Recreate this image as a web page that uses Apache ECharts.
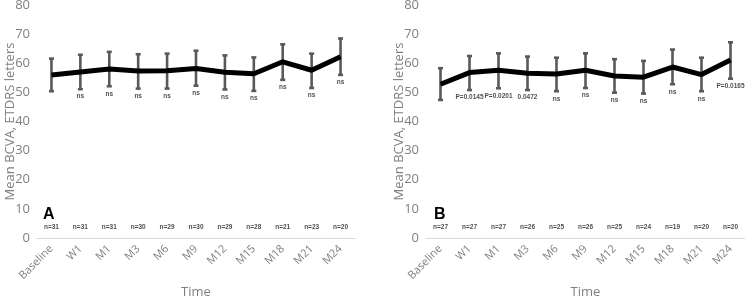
<!DOCTYPE html>
<html>
<head>
<meta charset="utf-8">
<script src="https://cdn.jsdelivr.net/npm/echarts@6/dist/echarts.min.js"></script>
<style>
html,body{margin:0;padding:0;background:#fff;}
#c{width:746px;height:298px;}
</style>
</head>
<body>
<div id="c"></div>
<script>
const categories = ['Baseline','W1','M1','M3','M6','M9','M12','M15','M18','M21','M24'];
const yTicks = [0,10,20,30,40,50,60,70,80];

const meanA  = [56.0,57.0,58.0,57.3,57.4,58.2,56.9,56.4,60.5,57.6,62.2];
const upperA = [61.6,62.9,63.9,63.1,63.3,64.3,62.7,62.0,66.5,63.3,68.5];
const lowerA = [50.4,51.1,52.1,51.3,51.3,52.3,51.0,50.5,54.3,51.5,56.0];
const sigA   = ['','ns','ns','ns','ns','ns','ns','ns','ns','ns','ns'];
const nA     = ['n=31','n=31','n=31','n=30','n=29','n=30','n=29','n=28','n=21','n=23','n=20'];

const meanB  = [52.8,56.8,57.6,56.6,56.3,57.6,55.6,55.2,58.7,56.1,61.1];
const upperB = [58.3,62.5,63.4,62.3,61.9,63.4,61.4,60.8,64.7,61.9,67.2];
const lowerB = [47.4,50.8,51.4,50.8,50.4,51.5,49.9,49.6,52.8,50.4,54.7];
const sigB   = ['','P=0.0145','P=0.0201','0.0472','ns','ns','ns','ns','ns','ns','P=0.0165'];
const nB     = ['n=27','n=27','n=27','n=26','n=25','n=26','n=25','n=24','n=19','n=20','n=20'];

const nRowValue = 3.6;
const panelLetters = ['A','B'];

const chart = echarts.init(document.getElementById('c'), null, {renderer:'canvas'});
const FONT = '"Open Sans", "Liberation Sans", sans-serif';
const grey = '#7f7f7f';

function errItem(params, api){
  const x = api.value(0);
  const lo = api.coord([x, api.value(1)]);
  const hi = api.coord([x, api.value(2)]);
  const w = 2.5;
  const st = {stroke:'#595959', lineWidth:2.6};
  return {type:'group', children:[
    {type:'line', shape:{x1:lo[0],y1:lo[1],x2:hi[0],y2:hi[1]}, style:st},
    {type:'line', shape:{x1:lo[0]-w,y1:lo[1],x2:lo[0]+w,y2:lo[1]}, style:st},
    {type:'line', shape:{x1:hi[0]-w,y1:hi[1],x2:hi[0]+w,y2:hi[1]}, style:st}
  ]};
}

function panelSeries(idx, mean, lower, upper, sig, ns){
  return [
    {type:'custom', xAxisIndex:idx, yAxisIndex:idx, renderItem:errItem, z:2,
     data: categories.map((c,i)=>[i, lower[i], upper[i]])},
    {type:'line', xAxisIndex:idx, yAxisIndex:idx, data:mean, showSymbol:false, symbol:'none', z:3,
     lineStyle:{color:'#000', width:5}, silent:true},
    {type:'scatter', xAxisIndex:idx, yAxisIndex:idx, symbolSize:0, z:4, silent:true,
     data: categories.map((c,i)=>({value:[i, lower[i]], label:{formatter: sig[i]}})),
     label:{show:true, position:'bottom', distance:4, fontSize:6.5, fontWeight:'bold', color:'#222', fontFamily:'"Liberation Sans", sans-serif'}},
    {type:'scatter', xAxisIndex:idx, yAxisIndex:idx, symbolSize:0, z:4, silent:true,
     data: categories.map((c,i)=>({value:[i, nRowValue], label:{formatter: ns[i]}})),
     label:{show:true, position:'inside', fontSize:6.5, fontWeight:'bold', color:'#222', fontFamily:'"Liberation Sans", sans-serif'}}
  ];
}

function xAx(idx){
  return {type:'category', gridIndex:idx, data:categories, boundaryGap:true,
    axisLine:{show:true, lineStyle:{color:'#d9d9d9', width:1}},
    axisTick:{show:false},
    axisLabel:{interval:0, rotate:45, fontSize:11, color:grey, margin:9, fontFamily:FONT},
    name:'Time', nameLocation:'middle', nameGap:48, nameMoveOverlap:false,
    nameTextStyle:{fontSize:13, color:grey, fontFamily:FONT}};
}
function yAx(idx){
  return {type:'value', gridIndex:idx, min:yTicks[0], max:yTicks[yTicks.length-1], interval:10,
    axisLine:{show:false}, axisTick:{show:false}, splitLine:{show:false},
    axisLabel:{fontSize:13, color:grey, margin:7, fontFamily:FONT},
    name:'Mean BCVA, ETDRS letters', nameLocation:'middle', nameGap:20, nameMoveOverlap:false,
    nameTextStyle:{fontSize:13, color:grey, fontFamily:FONT}};
}

chart.setOption({
  animation:false,
  backgroundColor:'#fff',
  title:[
    {text:panelLetters[0], left:38, top:202, textStyle:{fontSize:16, fontWeight:'bold', color:'#000', fontFamily:'"Liberation Sans", sans-serif'}},
    {text:panelLetters[1], left:429, top:202, textStyle:{fontSize:16, fontWeight:'bold', color:'#000', fontFamily:'"Liberation Sans", sans-serif'}}
  ],
  grid:[
    {left:37, right:391, top:5, bottom:60, containLabel:false, outerBoundsMode:'none'},
    {left:426, right:1, top:5, bottom:60, containLabel:false, outerBoundsMode:'none'}
  ],
  xAxis:[xAx(0), xAx(1)],
  yAxis:[yAx(0), yAx(1)],
  series:[].concat(
    panelSeries(0, meanA, lowerA, upperA, sigA, nA),
    panelSeries(1, meanB, lowerB, upperB, sigB, nB)
  )
});
</script>
</body>
</html>
